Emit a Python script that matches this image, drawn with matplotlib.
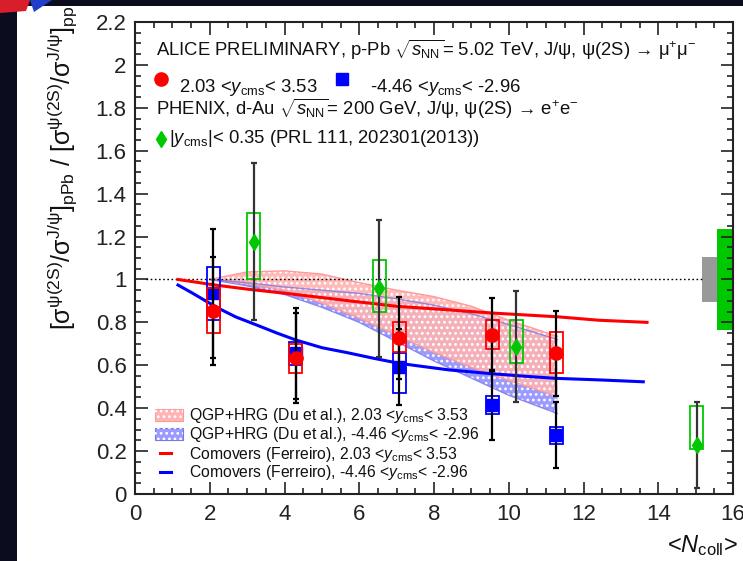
import matplotlib
matplotlib.use("Agg")
import matplotlib.pyplot as plt
from matplotlib.patches import Rectangle, Polygon
from matplotlib.ticker import MultipleLocator, FuncFormatter

plt.rcParams['font.family'] = ['Liberation Sans', 'DejaVu Sans']
plt.rcParams['mathtext.fontset'] = 'custom'
plt.rcParams['mathtext.rm'] = 'Liberation Sans'
plt.rcParams['mathtext.it'] = 'Liberation Sans:italic'
plt.rcParams['mathtext.bf'] = 'Liberation Sans:bold'
plt.rcParams['mathtext.sf'] = 'Liberation Sans'
plt.rcParams['hatch.linewidth'] = 1.2

# ---------------- data ----------------
# ALICE p-Pb, forward rapidity 2.03 < y_cms < 3.53
fwd_ncoll = [2.1, 4.3, 7.07, 9.56, 11.27]
fwd_ratio = [0.853, 0.633, 0.728, 0.743, 0.656]
fwd_stat = [0.25, 0.21, 0.19, 0.17, 0.197]
fwd_sys_lo = [0.752, 0.565, 0.663, 0.675, 0.563]
fwd_sys_hi = [0.959, 0.700, 0.803, 0.810, 0.757]

# ALICE p-Pb, backward rapidity -4.46 < y_cms < -2.96
bwd_ncoll = [2.1, 4.3, 7.07, 9.56, 11.27]
bwd_ratio = [0.935, 0.655, 0.593, 0.415, 0.275]
bwd_stat = [0.30, 0.21, 0.178, 0.165, 0.155]
bwd_sys_lo = [0.81, 0.60, 0.469, 0.373, 0.235]
bwd_sys_hi = [1.06, 0.71, 0.656, 0.457, 0.314]

# PHENIX d-Au, |y_cms| < 0.35
phx_ncoll = [3.18, 6.53, 10.2, 15.03]
phx_ratio = [1.176, 0.959, 0.687, 0.228]
phx_stat = [0.365, 0.32, 0.26, 0.20]
phx_sys_lo = [1.0, 0.85, 0.61, 0.208]
phx_sys_hi = [1.31, 1.091, 0.81, 0.41]

# global normalisation uncertainties (centre, half-height)
alice_global = (1.0, 0.106)
phenix_global = (1.0, 0.234)

# QGP+HRG (Du et al.) bands
qgp_ncoll = [2.0, 3.0, 4.0, 5.0, 6.0, 7.0, 8.0, 9.0, 10.0, 11.3]
qgp_fwd_hi = [1.0, 1.035, 1.04, 1.025, 0.985, 0.95, 0.92, 0.875, 0.81, 0.735]
qgp_fwd_lo = [1.0, 0.98, 0.95, 0.89, 0.82, 0.74, 0.66, 0.59, 0.53, 0.455]
qgp_bwd_hi = [1.0, 0.985, 0.965, 0.95, 0.935, 0.91, 0.88, 0.84, 0.79, 0.72]
qgp_bwd_lo = [1.0, 0.97, 0.93, 0.87, 0.80, 0.71, 0.62, 0.54, 0.46, 0.375]

# Comovers (Ferreiro)
com_fwd_ncoll = [1.15, 2.1, 3.0, 4.4, 5.75, 7.0, 8.4, 9.6, 11.3, 12.4, 13.7]
com_fwd_ratio = [1.0, 0.975, 0.955, 0.928, 0.90, 0.875, 0.858, 0.843, 0.826, 0.81, 0.80]
com_bwd_ncoll = [1.15, 1.5, 1.92, 2.23, 2.7, 3.25, 3.8, 4.3, 5.0, 5.7, 6.4, 7.07,
                 7.8, 8.42, 9.6, 10.5, 11.27, 12.4, 13.6]
com_bwd_ratio = [0.974, 0.94, 0.897, 0.866, 0.825, 0.788, 0.75, 0.718, 0.682, 0.658,
                 0.632, 0.609, 0.592, 0.578, 0.56, 0.548, 0.539, 0.532, 0.523]

model_labels = [
    'QGP+HRG (Du et al.), 2.03 <$y_{\\rm cms}$< 3.53',
    'QGP+HRG (Du et al.), -4.46 <$y_{\\rm cms}$< -2.96',
    'Comovers (Ferreiro), 2.03 <$y_{\\rm cms}$< 3.53',
    'Comovers (Ferreiro), -4.46 <$y_{\\rm cms}$< -2.96',
]

RED = '#ff0000'
BLUE = '#0000ff'
GREEN = '#00c800'
PINK = '#ffb3b3'
LBLUE = '#9a9aff'

# ---------------- figure ----------------
W, H = 743, 561
fig = plt.figure(figsize=(W / 100, H / 100), dpi=100)
fig.patch.set_facecolor('white')

# slide frame
fig.add_artist(Rectangle((0, 0), 17 / W, 1, transform=fig.transFigure,
                         facecolor='#0b0d1f', edgecolor='none', zorder=0))
fig.add_artist(Rectangle((0, 1 - 6 / H), 1, 6 / H, transform=fig.transFigure,
                         facecolor='#0b0d1f', edgecolor='none', zorder=0))
fig.add_artist(Polygon([(0, 1), (30 / W, 1), (26 / W, 1 - 11 / H), (0, 1 - 13 / H)],
                       closed=True, transform=fig.transFigure,
                       facecolor='#d81e2a', edgecolor='none', zorder=1))
fig.add_artist(Polygon([(30 / W, 1), (52 / W, 1), (34 / W, 1 - 12 / H)],
                       closed=True, transform=fig.transFigure,
                       facecolor='#1f3fc8', edgecolor='none', zorder=1))

x0, x1, ytop, ybot = 135, 733, 22, 494
ax = fig.add_axes([x0 / W, (H - ybot) / H, (x1 - x0) / W, (ybot - ytop) / H])
ax.set_xlim(0, 16)
ax.set_ylim(0, 2.2)


def afrac(xp, yp):
    return (xp - x0) / (x1 - x0), (ybot - yp) / (ybot - ytop)


# model bands
ax.fill_between(qgp_ncoll, qgp_bwd_lo, qgp_bwd_hi, facecolor=LBLUE,
                edgecolor='none', zorder=1)
ax.fill_between(qgp_ncoll, qgp_bwd_lo, qgp_bwd_hi, facecolor='none',
                edgecolor='white', hatch='...', linewidth=0, zorder=1.1)
ax.fill_between(qgp_ncoll, qgp_fwd_lo, qgp_fwd_hi, facecolor=PINK,
                edgecolor='none', alpha=0.9, zorder=1.2)
ax.fill_between(qgp_ncoll, qgp_fwd_lo, qgp_fwd_hi, facecolor='none',
                edgecolor='white', hatch='...', linewidth=0, zorder=1.3)
ax.plot(qgp_ncoll, qgp_fwd_hi, color='#ff9a9a', lw=1.0, zorder=1.4)
ax.plot(qgp_ncoll, qgp_fwd_lo, color='#ff9a9a', lw=1.0, zorder=1.4)
ax.plot(qgp_ncoll, qgp_bwd_hi, color='#7878e8', lw=1.0, alpha=0.8, zorder=1.5)
ax.plot(qgp_ncoll, qgp_bwd_lo, color='#7878e8', lw=1.0, alpha=0.8, zorder=1.5)

# reference line
ax.plot([0.3, 15.2], [1, 1], color='black', lw=1.0, ls=(0, (1.2, 1.8)), zorder=3)

# comover curves
ax.plot(com_fwd_ncoll, com_fwd_ratio, color=RED, lw=2.2, zorder=3.2)
ax.plot(com_bwd_ncoll, com_bwd_ratio, color=BLUE, lw=2.2, zorder=3.2)

# global uncertainties
ax.add_patch(Rectangle((15.18, alice_global[0] - alice_global[1]), 0.38,
                       2 * alice_global[1], facecolor='#999999', edgecolor='none', zorder=1))
ax.add_patch(Rectangle((15.56, phenix_global[0] - phenix_global[1]), 0.44,
                       2 * phenix_global[1], facecolor=GREEN, edgecolor='none', zorder=1))


def draw_set(xs, ys, stat, lo, hi, color, marker, ms, ecolor, z):
    hw = 0.175
    for xv, l, h in zip(xs, lo, hi):
        ax.add_patch(Rectangle((xv - hw, l), 2 * hw, h - l, fill=False,
                               edgecolor=color, lw=1.3, zorder=z))
    ax.errorbar(xs, ys, yerr=stat, fmt='none', ecolor=ecolor, elinewidth=1.6,
                capsize=2.5, capthick=1.6, zorder=z + 0.1)
    ax.plot(xs, ys, marker, color=color, ms=ms, mec=color, ls='none', zorder=z + 0.2)


draw_set(bwd_ncoll, bwd_ratio, bwd_stat, bwd_sys_lo, bwd_sys_hi, BLUE, 's', 8, 'black', 4)
draw_set(fwd_ncoll, fwd_ratio, fwd_stat, fwd_sys_lo, fwd_sys_hi, RED, 'o', 9.5, 'black', 5)
draw_set(phx_ncoll, phx_ratio, phx_stat, phx_sys_lo, phx_sys_hi, GREEN, 'd', 8, '#333333', 6)

# axes styling
for s in ax.spines.values():
    s.set_linewidth(1.5)
    s.set_color('#222222')
    s.set_zorder(10)
ax.xaxis.set_major_locator(MultipleLocator(2))
ax.xaxis.set_minor_locator(MultipleLocator(0.5))
ax.yaxis.set_major_locator(MultipleLocator(0.2))
ax.yaxis.set_minor_locator(MultipleLocator(0.05))
ax.yaxis.set_major_formatter(FuncFormatter(lambda v, p: '%g' % round(v, 2)))
ax.xaxis.set_major_formatter(FuncFormatter(lambda v, p: '%g' % v))
ax.tick_params(which='both', direction='in', top=True, right=True,
               color='#222222', labelsize=16, labelcolor='#222222', zorder=10)
ax.tick_params(which='major', length=9, width=1.2)
ax.tick_params(which='minor', length=4.5, width=1.2)
ax.tick_params(axis='x', which='major', pad=7)
ax.tick_params(axis='y', which='major', pad=6)

# axis titles
fig.text(62 / W, 1 - 6 / H,
         '$[\\mathrm{σ}^{\\mathrm{ψ(2S)}}/\\mathrm{σ}^{\\mathrm{J/ψ}}]_{\\mathrm{pPb}}$'
         ' / '
         '$[\\mathrm{σ}^{\\mathrm{ψ(2S)}}/\\mathrm{σ}^{\\mathrm{J/ψ}}]_{\\mathrm{pp}}$',
         rotation=90, ha='center', va='top', fontsize=18, color='#111111')
fig.text(738 / W, 1 - 552 / H, '<$N_{\\rm coll}$>', ha='right', va='baseline',
         fontsize=17, color='#111111')

# top legend
tk = dict(transform=ax.transAxes, fontsize=13.3, color='#111111', va='baseline', zorder=12)
ax.text(*afrac(156, 56), 'ALICE PRELIMINARY, p-Pb $\\sqrt{s_{\\rm NN}}$= 5.02 TeV, '
        'J/ψ, ψ(2S) → μ$^{+}$μ$^{-}$', **tk)
ax.plot(*afrac(161, 79), 'o', color=RED, ms=9.5, transform=ax.transAxes, clip_on=False, zorder=12)
ax.text(*afrac(179, 91.5), '2.03 <$y_{\\rm cms}$< 3.53', **tk)
ax.plot(*afrac(342, 79), 's', color=BLUE, ms=8, transform=ax.transAxes, clip_on=False, zorder=12)
ax.text(*afrac(370, 91.5), '-4.46 <$y_{\\rm cms}$< -2.96', **tk)
ax.text(*afrac(156, 115), 'PHENIX, d-Au $\\sqrt{s_{\\rm NN}}$= 200 GeV, '
        'J/ψ, ψ(2S) → e$^{+}$e$^{-}$', **tk)
ax.plot(*afrac(161, 139), 'd', color=GREEN, ms=8, transform=ax.transAxes, clip_on=False, zorder=12)
ax.text(*afrac(169, 143), '|$y_{\\rm cms}$|< 0.35 (PRL 111, 202301(2013))', **tk)

# model legend
lk = dict(transform=ax.transAxes, fontsize=11.3, color='#111111', va='baseline', zorder=12)
rows = [414.5, 433.5, 453.0, 472.0]
for i, (yc, lab) in enumerate(zip(rows, model_labels)):
    if i < 2:
        fc = PINK if i == 0 else LBLUE
        ec = '#ff9a9a' if i == 0 else '#7878e8'
        xa, ya = afrac(155, yc + 6)
        xb, yb = afrac(183, yc - 6)
        ax.add_patch(Rectangle((xa, ya), xb - xa, yb - ya, transform=ax.transAxes,
                               facecolor=fc, edgecolor=ec, lw=0.8, zorder=11))
        ax.add_patch(Rectangle((xa, ya), xb - xa, yb - ya, transform=ax.transAxes,
                               facecolor='none', edgecolor='white', hatch='...',
                               lw=0, zorder=11.1))
    else:
        col = RED if i == 2 else BLUE
        xa, ya = afrac(160, yc)
        xb, _ = afrac(171, yc)
        ax.plot([xa, xb], [ya, ya], color=col, lw=2.2, transform=ax.transAxes,
                clip_on=False, zorder=11)
    ax.text(*afrac(189, yc + 5.5), lab, **lk)

fig.savefig('out.png', dpi=100, facecolor=fig.get_facecolor())
